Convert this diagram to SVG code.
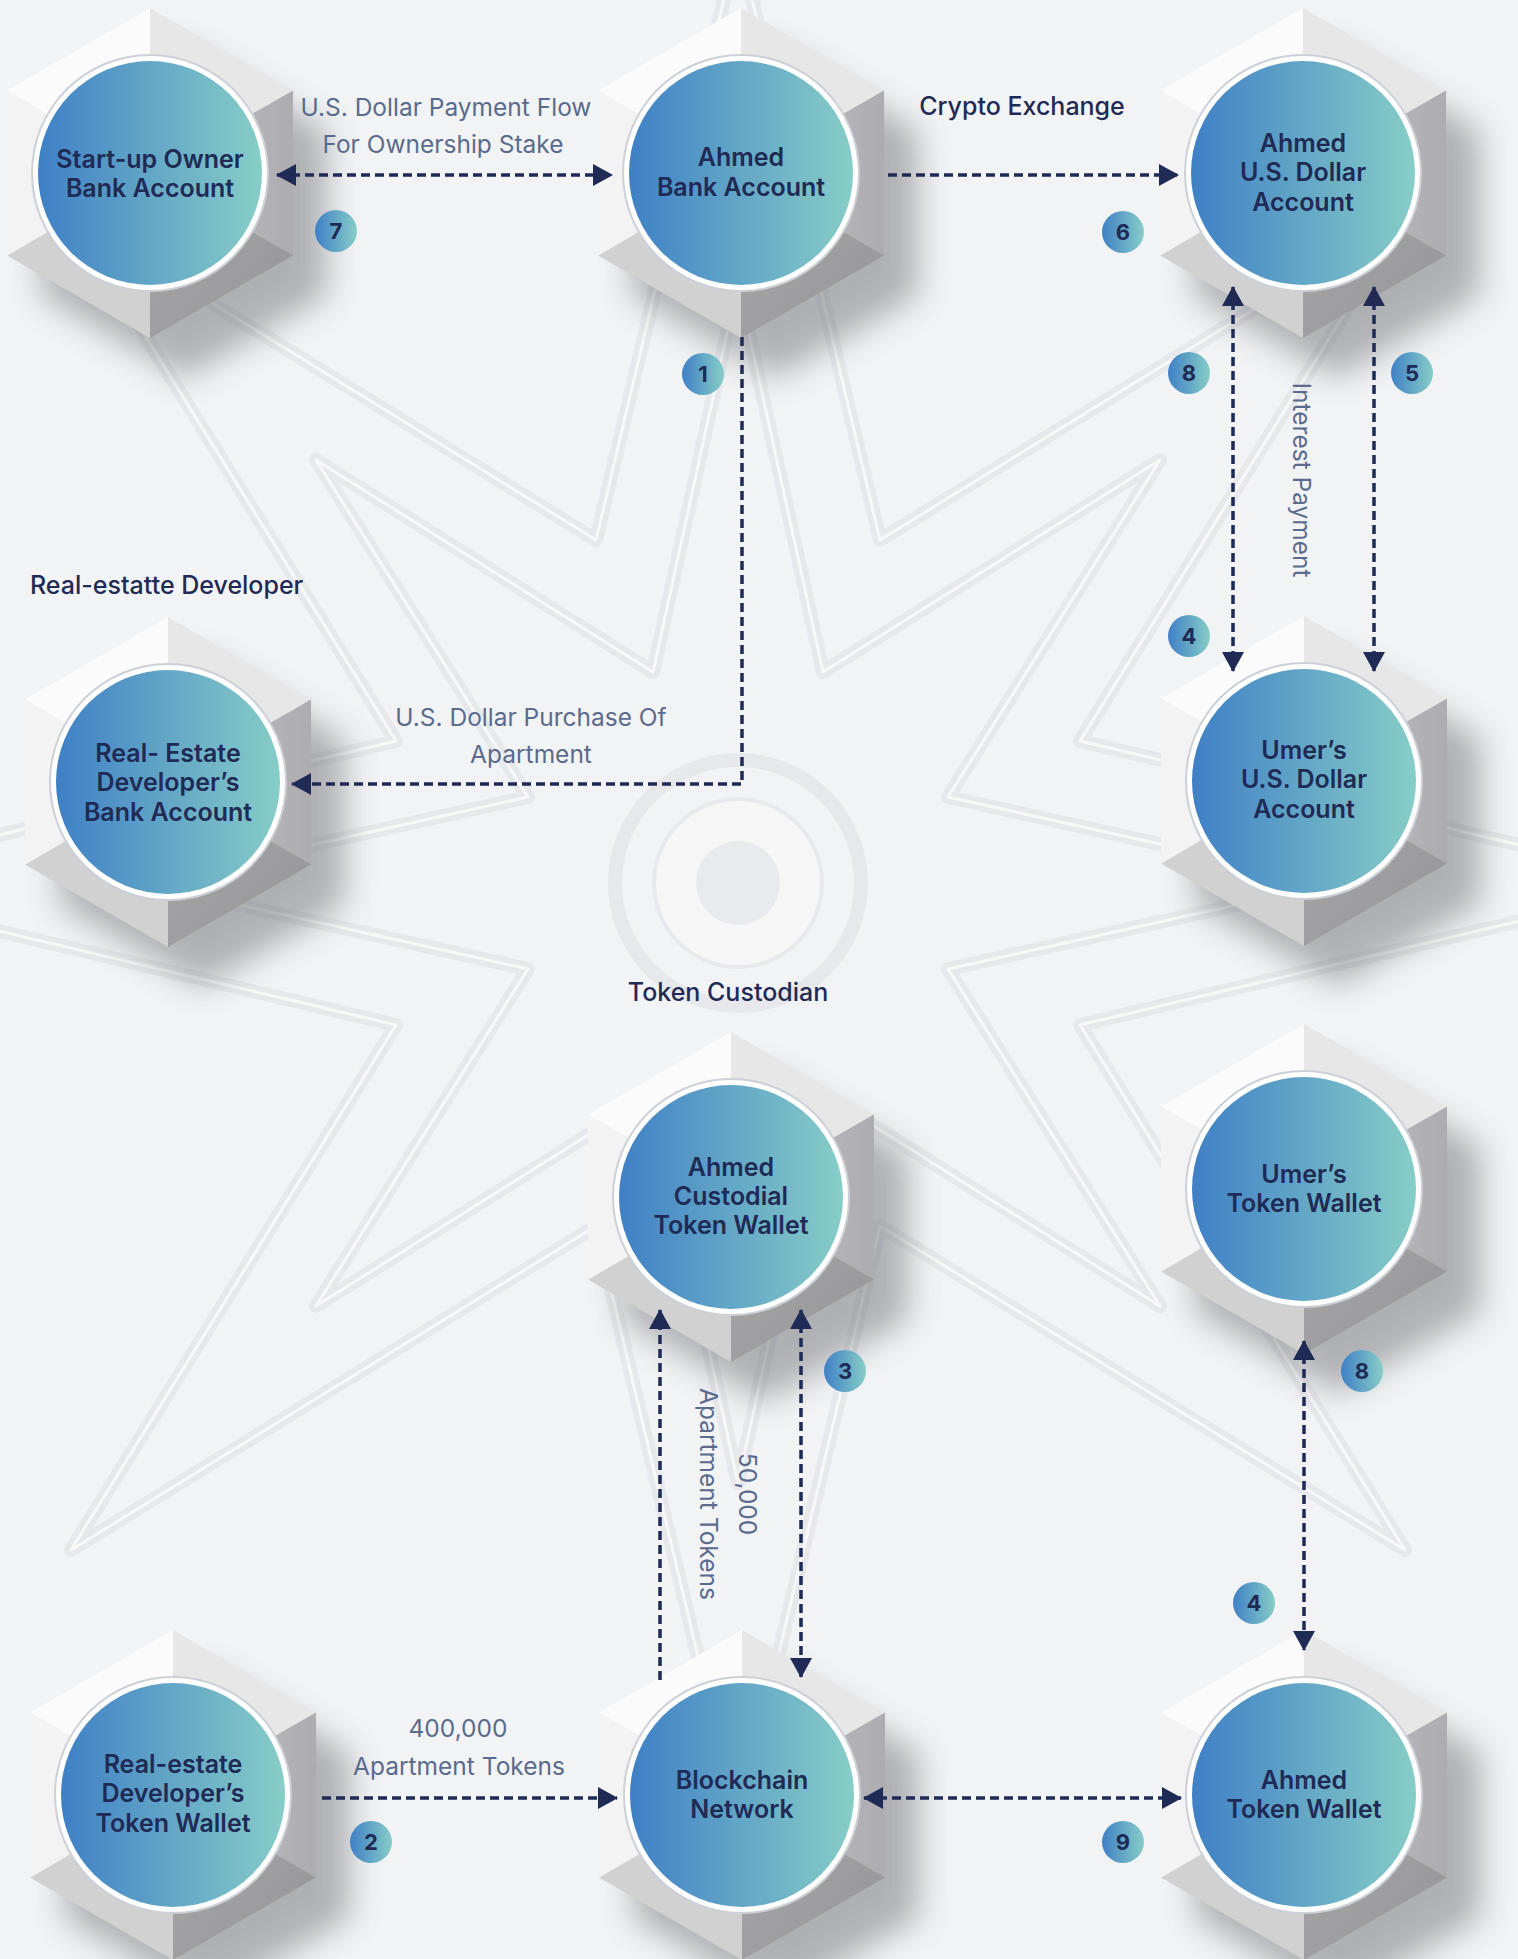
<svg xmlns="http://www.w3.org/2000/svg" xmlns:xlink="http://www.w3.org/1999/xlink" width="1518" height="1959" viewBox="0 0 1518 1959">
  <defs>
    <style>
      .nt { font-family: Inter, "Noto Sans", "Liberation Sans", sans-serif; font-weight: 600; font-size: 25px; fill: #1f2a55; text-anchor: middle; dominant-baseline: central; }
      .lbl { font-family: Inter, "Noto Sans", "Liberation Sans", sans-serif; font-weight: 400; font-size: 24.5px; fill: #5a6b8d; text-anchor: middle; dominant-baseline: central; }
      .ttl { font-family: Inter, "Noto Sans", "Liberation Sans", sans-serif; font-weight: 500; font-size: 25px; fill: #1f2a55; dominant-baseline: central; }
      .bn { font-family: Inter, "Noto Sans", "Liberation Sans", sans-serif; font-weight: 700; font-size: 22px; fill: #1f2a55; text-anchor: middle; dominant-baseline: central; }
      .edge { fill: none; stroke: #1f2a55; stroke-width: 3.5; stroke-dasharray: 9 5; }
      .pat { fill: none; stroke: #e5e6ea; stroke-width: 14; stroke-linejoin: round; }
      .patw { fill: none; stroke: #fafafb; stroke-width: 3; stroke-linejoin: round; }
    </style>
    <linearGradient id="disc" x1="0" y1="0" x2="1" y2="0">
      <stop offset="0" stop-color="#3f80c6"/>
      <stop offset="1" stop-color="#87cdc7"/>
    </linearGradient>
    <linearGradient id="faceBR" x1="0" y1="0" x2="1" y2="1">
      <stop offset="0" stop-color="#a9a9ab"/>
      <stop offset="1" stop-color="#959597"/>
    </linearGradient>
    <linearGradient id="faceR" x1="0" y1="0" x2="1" y2="0">
      <stop offset="0" stop-color="#c4c3c7"/>
      <stop offset="1" stop-color="#adacb0"/>
    </linearGradient>
    <filter id="soft" x="-50%" y="-50%" width="200%" height="200%">
      <feGaussianBlur stdDeviation="16"/>
    </filter>
    <marker id="ah" markerUnits="userSpaceOnUse" viewBox="0 0 20 22" markerWidth="20" markerHeight="22" refX="19" refY="11" orient="auto-start-reverse">
      <path d="M0,0 L20,11 L0,22 z" fill="#1f2a55"/>
    </marker>
    <!-- shaded hexagonal plinth drawn around the origin -->
    <g id="hex">
      <polygon points="0,-165 143,-82.5 143,82.5 0,165 -143,82.5 -143,-82.5" transform="translate(34,40)" fill="#55575c" opacity="0.42" filter="url(#soft)"/>
      <polygon points="0,0 -143,-82.5 0,-165" fill="#fbfbfb"/>
      <polygon points="0,0 0,-165 143,-82.5" fill="#e7e7e8"/>
      <polygon points="0,0 143,-82.5 143,82.5" fill="url(#faceR)"/>
      <polygon points="0,0 143,82.5 0,165" fill="url(#faceBR)"/>
      <polygon points="0,0 0,165 -143,82.5" fill="#d1d1d2"/>
      <polygon points="0,0 -143,82.5 -143,-82.5" fill="#f3f3f4"/>
    </g>
    <g id="disk">
      <circle r="119" fill="#cdd0d6"/>
      <circle r="117" fill="#ffffff"/>
      <circle r="112" fill="url(#disc)"/>
    </g>
    <g id="badge">
      <circle r="21" fill="url(#disc)"/>
    </g>
  </defs>

  <!-- backdrop with a faint geometric ornament -->
  <rect width="1518" height="1959" fill="#f2f3f5"/>
  <g id="ornament" opacity="0.8">
    <polygon class="pat" points="738,283 823,672 1160,460 948,797 1335,883 948,969 1160,1306 823,1094 738,1483 653,1094 316,1306 528,969 141,883 528,797 316,460 653,672"/>
    <polygon class="patw" points="738,283 823,672 1160,460 948,797 1335,883 948,969 1160,1306 823,1094 738,1483 653,1094 316,1306 528,969 141,883 528,797 316,460 653,672"/>
    <polygon class="pat" points="738,-60 880,540 1405,216 1080,741 1680,883 1080,1025 1405,1550 880,1226 738,1826 596,1226 71,1550 396,1025 -204,883 396,741 71,216 596,540"/>
    <polygon class="patw" points="738,-60 880,540 1405,216 1080,741 1680,883 1080,1025 1405,1550 880,1226 738,1826 596,1226 71,1550 396,1025 -204,883 396,741 71,216 596,540"/>
    <circle cx="738" cy="883" r="123" class="pat"/>
    <circle cx="738" cy="883" r="84" fill="#f7f7f8" stroke="#e6e7ea" stroke-width="4"/>
    <circle cx="738" cy="883" r="42" fill="#e8e9ec"/>
  </g>

  <!-- nodes -->
  <g id="node-startup-bank">
    <use href="#hex" x="150" y="173"/>
    <use href="#disk" x="150" y="173"/>
    <text class="nt" x="150" y="159">Start-up Owner</text>
    <text class="nt" x="150" y="188">Bank Account</text>
  </g>
  <g id="node-ahmed-bank">
    <use href="#hex" x="741" y="173"/>
    <use href="#disk" x="741" y="173"/>
    <text class="nt" x="741" y="157">Ahmed</text>
    <text class="nt" x="741" y="187">Bank Account</text>
  </g>
  <g id="node-ahmed-usd">
    <use href="#hex" x="1303" y="173"/>
    <use href="#disk" x="1303" y="173"/>
    <text class="nt" x="1303" y="143">Ahmed</text>
    <text class="nt" x="1303" y="172">U.S. Dollar</text>
    <text class="nt" x="1303" y="202">Account</text>
  </g>
  <g id="node-developer-bank">
    <use href="#hex" x="168" y="782"/>
    <use href="#disk" x="168" y="782"/>
    <text class="nt" x="168" y="753">Real- Estate</text>
    <text class="nt" x="168" y="782">Developer’s</text>
    <text class="nt" x="168" y="812">Bank Account</text>
  </g>
  <g id="node-umer-usd">
    <use href="#hex" x="1304" y="781"/>
    <use href="#disk" x="1304" y="781"/>
    <text class="nt" x="1304" y="750">Umer’s</text>
    <text class="nt" x="1304" y="779">U.S. Dollar</text>
    <text class="nt" x="1304" y="809">Account</text>
  </g>
  <g id="node-custodial-wallet">
    <use href="#hex" x="731" y="1197"/>
    <use href="#disk" x="731" y="1197"/>
    <text class="nt" x="731" y="1167">Ahmed</text>
    <text class="nt" x="731" y="1196">Custodial</text>
    <text class="nt" x="731" y="1225">Token Wallet</text>
  </g>
  <g id="node-umer-wallet">
    <use href="#hex" x="1304" y="1189"/>
    <use href="#disk" x="1304" y="1189"/>
    <text class="nt" x="1304" y="1174">Umer’s</text>
    <text class="nt" x="1304" y="1203">Token Wallet</text>
  </g>
  <g id="node-developer-wallet">
    <use href="#hex" x="173" y="1795"/>
    <use href="#disk" x="173" y="1795"/>
    <text class="nt" x="173" y="1764">Real-estate</text>
    <text class="nt" x="173" y="1793">Developer’s</text>
    <text class="nt" x="173" y="1823">Token Wallet</text>
  </g>
  <g id="node-blockchain">
    <use href="#hex" x="742" y="1795"/>
    <use href="#disk" x="742" y="1795"/>
    <text class="nt" x="742" y="1780">Blockchain</text>
    <text class="nt" x="742" y="1809">Network</text>
  </g>
  <g id="node-ahmed-wallet">
    <use href="#hex" x="1304" y="1795"/>
    <use href="#disk" x="1304" y="1795"/>
    <text class="nt" x="1304" y="1780">Ahmed</text>
    <text class="nt" x="1304" y="1809">Token Wallet</text>
  </g>

  <!-- connectors -->
  <g id="connectors">
    <path class="edge" d="M277,175 H612" marker-start="url(#ah)" marker-end="url(#ah)"/>
    <path class="edge" d="M888,175 H1178" marker-end="url(#ah)"/>
    <path class="edge" d="M742,337 V784 H292" marker-end="url(#ah)"/>
    <path class="edge" d="M1233,287 V671" marker-start="url(#ah)" marker-end="url(#ah)"/>
    <path class="edge" d="M1374,287 V671" marker-start="url(#ah)" marker-end="url(#ah)"/>
    <path class="edge" d="M660,1680 V1310" marker-end="url(#ah)"/>
    <path class="edge" d="M801,1310 V1677" marker-start="url(#ah)" marker-end="url(#ah)"/>
    <path class="edge" d="M1304,1341 V1650" marker-start="url(#ah)" marker-end="url(#ah)"/>
    <path class="edge" d="M322,1798 H617" marker-end="url(#ah)"/>
    <path class="edge" d="M864,1798 H1181" marker-start="url(#ah)" marker-end="url(#ah)"/>
  </g>

  <!-- connector labels -->
  <g id="labels">
    <text class="lbl" x="446" y="107">U.S. Dollar Payment Flow</text>
    <text class="lbl" x="443" y="144">For Ownership Stake</text>
    <text class="ttl" x="1022" y="106" text-anchor="middle">Crypto Exchange</text>
    <text class="lbl" x="531" y="717">U.S. Dollar Purchase Of</text>
    <text class="lbl" x="531" y="754">Apartment</text>
    <text class="lbl" transform="translate(1302,480) rotate(90)">Interest Payment</text>
    <text class="lbl" transform="translate(748,1494) rotate(90)">50,000</text>
    <text class="lbl" transform="translate(709,1494) rotate(90)">Apartment Tokens</text>
    <text class="lbl" x="458" y="1728">400,000</text>
    <text class="lbl" x="459" y="1766">Apartment Tokens</text>
    <text class="ttl" x="30" y="585">Real-estatte Developer</text>
    <text class="ttl" x="728" y="992" text-anchor="middle">Token Custodian</text>
  </g>

  <!-- step numbers -->
  <g id="steps">
    <use href="#badge" x="336" y="231"/><text class="bn" x="336" y="231">7</text>
    <use href="#badge" x="703" y="374"/><text class="bn" x="703" y="374">1</text>
    <use href="#badge" x="1123" y="232"/><text class="bn" x="1123" y="232">6</text>
    <use href="#badge" x="1189" y="373"/><text class="bn" x="1189" y="373">8</text>
    <use href="#badge" x="1412" y="373"/><text class="bn" x="1412" y="373">5</text>
    <use href="#badge" x="1189" y="636"/><text class="bn" x="1189" y="636">4</text>
    <use href="#badge" x="845" y="1371"/><text class="bn" x="845" y="1371">3</text>
    <use href="#badge" x="1362" y="1371"/><text class="bn" x="1362" y="1371">8</text>
    <use href="#badge" x="1254" y="1603"/><text class="bn" x="1254" y="1603">4</text>
    <use href="#badge" x="371" y="1842"/><text class="bn" x="371" y="1842">2</text>
    <use href="#badge" x="1123" y="1842"/><text class="bn" x="1123" y="1842">9</text>
  </g>
</svg>
